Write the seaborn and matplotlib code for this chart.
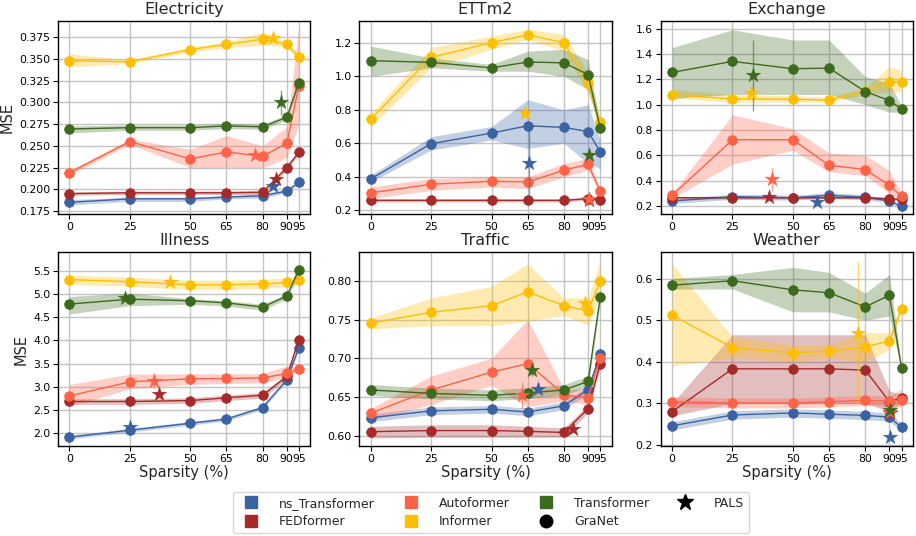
import matplotlib
matplotlib.use("Agg")
import matplotlib.pyplot as plt
import seaborn as sns
import pandas as pd
from matplotlib.lines import Line2D

# ---------------- data ----------------
SPARSITY = [0, 25, 50, 65, 80, 90, 95]
XTICK_LABELS = ["0", "25", "50", "65", "80", "90", "95"]
MODELS = ["ns_Transformer", "FEDformer", "Autoformer", "Informer", "Transformer"]
DATASETS = ["Electricity", "ETTm2", "Exchange", "Illness", "Traffic", "Weather"]

# Electricity
ELEC_MEAN = {
    "ns_Transformer": [0.185, 0.189, 0.189, 0.191, 0.1925, 0.198, 0.208],
    "FEDformer": [0.195, 0.196, 0.196, 0.196, 0.1965, 0.225, 0.2425],
    "Autoformer": [0.219, 0.255, 0.235, 0.243, 0.238, 0.253, 0.319],
    "Informer": [0.348, 0.347, 0.361, 0.367, 0.373, 0.367, 0.352],
    "Transformer": [0.2695, 0.271, 0.271, 0.273, 0.272, 0.283, 0.323],
}
ELEC_LO = {
    "ns_Transformer": [0.182, 0.186, 0.186, 0.189, 0.190, 0.196, 0.206],
    "FEDformer": [0.193, 0.194, 0.194, 0.194, 0.194, 0.222, 0.240],
    "Autoformer": [0.216, 0.252, 0.225, 0.225, 0.225, 0.236, 0.275],
    "Informer": [0.341, 0.345, 0.358, 0.363, 0.366, 0.364, 0.348],
    "Transformer": [0.265, 0.268, 0.268, 0.270, 0.269, 0.280, 0.320],
}
ELEC_HI = {
    "ns_Transformer": [0.188, 0.191, 0.191, 0.193, 0.195, 0.200, 0.210],
    "FEDformer": [0.197, 0.198, 0.198, 0.198, 0.199, 0.228, 0.245],
    "Autoformer": [0.222, 0.258, 0.246, 0.262, 0.250, 0.272, 0.388],
    "Informer": [0.356, 0.349, 0.364, 0.370, 0.381, 0.370, 0.356],
    "Transformer": [0.273, 0.274, 0.274, 0.276, 0.275, 0.286, 0.326],
}
ELEC_PALS_X = [84.3, 85.7, 77.0, 84.3, 87.7]
ELEC_PALS_Y = [0.204, 0.212, 0.240, 0.374, 0.300]
ELEC_PALS_ERR = [0.002, 0.003, 0.002, 0.005, 0.014]

# ETTm2
ETT_MEAN = {
    "ns_Transformer": [0.388, 0.598, 0.661, 0.705, 0.695, 0.670, 0.549],
    "FEDformer": [0.26, 0.26, 0.26, 0.26, 0.26, 0.27, 0.265],
    "Autoformer": [0.305, 0.356, 0.374, 0.370, 0.440, 0.475, 0.315],
    "Informer": [0.745, 1.113, 1.200, 1.247, 1.200, 0.960, 0.730],
    "Transformer": [1.093, 1.083, 1.050, 1.085, 1.080, 1.010, 0.690],
}
ETT_LO = {
    "ns_Transformer": [0.37, 0.56, 0.62, 0.57, 0.60, 0.48, 0.45],
    "FEDformer": [0.25, 0.25, 0.25, 0.25, 0.25, 0.26, 0.255],
    "Autoformer": [0.27, 0.32, 0.34, 0.33, 0.40, 0.44, 0.30],
    "Informer": [0.70, 1.05, 1.16, 1.22, 1.15, 0.90, 0.70],
    "Transformer": [1.00, 1.05, 1.03, 1.03, 1.00, 0.92, 0.67],
}
ETT_HI = {
    "ns_Transformer": [0.41, 0.64, 0.70, 0.86, 0.80, 0.83, 0.62],
    "FEDformer": [0.27, 0.27, 0.27, 0.27, 0.27, 0.28, 0.275],
    "Autoformer": [0.34, 0.39, 0.40, 0.40, 0.48, 0.51, 0.33],
    "Informer": [0.78, 1.17, 1.24, 1.28, 1.25, 1.02, 0.75],
    "Transformer": [1.18, 1.11, 1.07, 1.15, 1.16, 1.10, 0.71],
}
ETT_PALS_X = [65.5, 90.2, 90.2, 63.7, 90.2]
ETT_PALS_Y = [0.483, 0.265, 0.27, 0.78, 0.53]
ETT_PALS_ERR = [0.2, 0.01, 0.01, 0.0, 0.02]

# Exchange
EXCH_MEAN = {
    "ns_Transformer": [0.240, 0.274, 0.266, 0.285, 0.270, 0.240, 0.200],
    "FEDformer": [0.266, 0.266, 0.266, 0.266, 0.266, 0.258, 0.253],
    "Autoformer": [0.285, 0.723, 0.723, 0.522, 0.488, 0.364, 0.277],
    "Informer": [1.077, 1.045, 1.043, 1.035, 1.105, 1.180, 1.180],
    "Transformer": [1.254, 1.341, 1.283, 1.288, 1.103, 1.032, 0.966],
}
EXCH_LO = {
    "ns_Transformer": [0.22, 0.254, 0.246, 0.265, 0.250, 0.225, 0.19],
    "FEDformer": [0.256, 0.256, 0.256, 0.256, 0.256, 0.248, 0.243],
    "Autoformer": [0.26, 0.53, 0.64, 0.47, 0.44, 0.30, 0.25],
    "Informer": [1.05, 1.02, 1.02, 1.02, 1.08, 1.10, 1.10],
    "Transformer": [1.05, 1.08, 1.08, 1.08, 1.00, 0.94, 0.94],
}
EXCH_HI = {
    "ns_Transformer": [0.26, 0.294, 0.286, 0.305, 0.290, 0.255, 0.21],
    "FEDformer": [0.276, 0.276, 0.276, 0.276, 0.276, 0.268, 0.263],
    "Autoformer": [0.30, 0.92, 0.81, 0.62, 0.60, 0.48, 0.30],
    "Informer": [1.12, 1.08, 1.07, 1.06, 1.13, 1.30, 1.27],
    "Transformer": [1.45, 1.59, 1.51, 1.51, 1.22, 1.17, 0.99],
}
EXCH_PALS_X = [60.1, 40.3, 41.4, 32.5, 33.3]
EXCH_PALS_Y = [0.23, 0.27, 0.41, 1.09, 1.23]
EXCH_PALS_ERR = [0.0, 0.01, 0.09, 0.03, 0.28]

# Illness
ILL_MEAN = {
    "ns_Transformer": [1.91, 2.06, 2.21, 2.30, 2.55, 3.15, 3.84],
    "FEDformer": [2.68, 2.68, 2.70, 2.76, 2.815, 3.22, 4.016],
    "Autoformer": [2.80, 3.105, 3.17, 3.177, 3.19, 3.285, 3.39],
    "Informer": [5.312, 5.268, 5.20, 5.20, 5.22, 5.25, 5.31],
    "Transformer": [4.784, 4.89, 4.856, 4.81, 4.72, 4.957, 5.52],
}
ILL_LO = {
    "ns_Transformer": [1.87, 2.02, 2.17, 2.26, 2.51, 3.11, 3.80],
    "FEDformer": [2.62, 2.62, 2.64, 2.70, 2.755, 3.16, 3.956],
    "Autoformer": [2.58, 2.95, 3.05, 3.07, 3.08, 3.20, 3.35],
    "Informer": [5.212, 5.168, 5.10, 5.10, 5.12, 5.15, 5.21],
    "Transformer": [4.57, 4.75, 4.78, 4.74, 4.65, 4.90, 5.40],
}
ILL_HI = {
    "ns_Transformer": [1.95, 2.10, 2.25, 2.34, 2.59, 3.19, 3.88],
    "FEDformer": [2.74, 2.74, 2.76, 2.82, 2.875, 3.28, 4.076],
    "Autoformer": [3.05, 3.27, 3.28, 3.28, 3.28, 3.45, 3.42],
    "Informer": [5.412, 5.368, 5.30, 5.30, 5.32, 5.35, 5.41],
    "Transformer": [4.95, 5.02, 4.90, 4.86, 4.78, 5.00, 5.65],
}
ILL_PALS_X = [25.2, 37.0, 34.9, 41.8, 22.9]
ILL_PALS_Y = [2.12, 2.84, 3.13, 5.25, 4.92]
ILL_PALS_ERR = [0.05, 0.03, 0.15, 0.05, 0.05]

# Traffic
TRAF_MEAN = {
    "ns_Transformer": [0.623, 0.632, 0.634, 0.6305, 0.6385, 0.6595, 0.705],
    "FEDformer": [0.605, 0.6065, 0.6065, 0.6055, 0.604, 0.635, 0.6926],
    "Autoformer": [0.629, 0.659, 0.682, 0.693, 0.653, 0.6485, 0.700],
    "Informer": [0.7455, 0.7593, 0.768, 0.7857, 0.768, 0.761, 0.800],
    "Transformer": [0.659, 0.6545, 0.652, 0.655, 0.659, 0.670, 0.779],
}
TRAF_LO = {
    "ns_Transformer": [0.618, 0.627, 0.629, 0.6255, 0.6335, 0.6545, 0.700],
    "FEDformer": [0.597, 0.598, 0.598, 0.598, 0.598, 0.630, 0.688],
    "Autoformer": [0.620, 0.640, 0.665, 0.637, 0.645, 0.640, 0.690],
    "Informer": [0.738, 0.742, 0.742, 0.748, 0.755, 0.743, 0.780],
    "Transformer": [0.652, 0.6475, 0.645, 0.648, 0.652, 0.663, 0.772],
}
TRAF_HI = {
    "ns_Transformer": [0.628, 0.637, 0.639, 0.6355, 0.6435, 0.6645, 0.710],
    "FEDformer": [0.612, 0.614, 0.614, 0.612, 0.610, 0.640, 0.698],
    "Autoformer": [0.635, 0.677, 0.700, 0.750, 0.660, 0.660, 0.715],
    "Informer": [0.752, 0.778, 0.793, 0.822, 0.778, 0.778, 0.825],
    "Transformer": [0.666, 0.6615, 0.659, 0.662, 0.666, 0.677, 0.786],
}
TRAF_PALS_X = [69.4, 83.6, 62.5, 88.6, 66.6]
TRAF_PALS_Y = [0.660, 0.609, 0.652, 0.771, 0.685]
TRAF_PALS_ERR = [0.005, 0.003, 0.017, 0.006, 0.008]

# Weather
WEA_MEAN = {
    "ns_Transformer": [0.246, 0.272, 0.277, 0.274, 0.271, 0.267, 0.242],
    "FEDformer": [0.280, 0.383, 0.383, 0.383, 0.380, 0.304, 0.313],
    "Autoformer": [0.304, 0.301, 0.301, 0.304, 0.307, 0.305, 0.307],
    "Informer": [0.512, 0.434, 0.422, 0.425, 0.436, 0.450, 0.528],
    "Transformer": [0.584, 0.595, 0.573, 0.566, 0.532, 0.560, 0.385],
}
WEA_LO = {
    "ns_Transformer": [0.236, 0.262, 0.267, 0.264, 0.261, 0.257, 0.232],
    "FEDformer": [0.27, 0.30, 0.30, 0.30, 0.30, 0.28, 0.30],
    "Autoformer": [0.292, 0.289, 0.289, 0.292, 0.295, 0.293, 0.29],
    "Informer": [0.39, 0.41, 0.40, 0.41, 0.40, 0.43, 0.52],
    "Transformer": [0.575, 0.575, 0.52, 0.52, 0.50, 0.51, 0.38],
}
WEA_HI = {
    "ns_Transformer": [0.256, 0.282, 0.287, 0.284, 0.281, 0.277, 0.252],
    "FEDformer": [0.30, 0.465, 0.465, 0.465, 0.465, 0.33, 0.32],
    "Autoformer": [0.316, 0.313, 0.313, 0.316, 0.319, 0.317, 0.335],
    "Informer": [0.635, 0.46, 0.44, 0.44, 0.47, 0.47, 0.54],
    "Transformer": [0.60, 0.61, 0.627, 0.615, 0.565, 0.61, 0.39],
}
WEA_PALS_X = [90.3, 90.3, 90.3, 76.8, 90.3]
WEA_PALS_Y = [0.22, 0.278, 0.28, 0.47, 0.284]
WEA_PALS_ERR = [0.0, 0.0, 0.0, 0.17, 0.005]

YLIMS = [(0.171, 0.394), (0.176, 1.33), (0.134, 1.66),
         (1.72, 5.90), (0.5866, 0.8368), (0.1976, 0.663)]
YTICKS = [
    [0.175, 0.200, 0.225, 0.250, 0.275, 0.300, 0.325, 0.350, 0.375],
    [0.2, 0.4, 0.6, 0.8, 1.0, 1.2],
    [0.2, 0.4, 0.6, 0.8, 1.0, 1.2, 1.4, 1.6],
    [2.0, 2.5, 3.0, 3.5, 4.0, 4.5, 5.0, 5.5],
    [0.60, 0.65, 0.70, 0.75, 0.80],
    [0.2, 0.3, 0.4, 0.5, 0.6],
]
YFMT = ["{:.3f}", "{:.1f}", "{:.1f}", "{:.1f}", "{:.2f}", "{:.1f}"]

COLORS = {
    "ns_Transformer": "#3B62A2",
    "FEDformer": "#A52A2A",
    "Autoformer": "#FF6347",
    "Informer": "#FFBF00",
    "Transformer": "#3D6B1E",
}

ALL = [
    (ELEC_MEAN, ELEC_LO, ELEC_HI, ELEC_PALS_X, ELEC_PALS_Y, ELEC_PALS_ERR),
    (ETT_MEAN, ETT_LO, ETT_HI, ETT_PALS_X, ETT_PALS_Y, ETT_PALS_ERR),
    (EXCH_MEAN, EXCH_LO, EXCH_HI, EXCH_PALS_X, EXCH_PALS_Y, EXCH_PALS_ERR),
    (ILL_MEAN, ILL_LO, ILL_HI, ILL_PALS_X, ILL_PALS_Y, ILL_PALS_ERR),
    (TRAF_MEAN, TRAF_LO, TRAF_HI, TRAF_PALS_X, TRAF_PALS_Y, TRAF_PALS_ERR),
    (WEA_MEAN, WEA_LO, WEA_HI, WEA_PALS_X, WEA_PALS_Y, WEA_PALS_ERR),
]

# ---------------- style ----------------
sns.set_style("whitegrid", {
    "axes.edgecolor": "black",
    "grid.color": "#c4c4c4",
    "xtick.bottom": True,
    "ytick.left": True,
    "xtick.color": "black",
    "ytick.color": "black",
})
plt.rcParams["font.family"] = ["DejaVu Sans"]
plt.rcParams["axes.linewidth"] = 1.0
plt.rcParams["grid.linewidth"] = 1.0

fig, axes = plt.subplots(2, 3, figsize=(9.16, 5.36), dpi=100)
plt.subplots_adjust(left=0.0633, right=0.9967, top=0.961, bottom=0.168,
                    wspace=0.194, hspace=0.196)

for k, ax in enumerate(axes.flat):
    mean, lo, hi, px, py, perr = ALL[k]
    for i, m in enumerate(MODELS):
        c = COLORS[m]
        ax.fill_between(SPARSITY, lo[m], hi[m], color=c, alpha=0.3, lw=0, zorder=1 + i * 0.1)
        df = pd.DataFrame({"Sparsity": SPARSITY, "MSE": mean[m]})
        sns.lineplot(data=df, x="Sparsity", y="MSE", ax=ax, color=c, marker="o",
                     markersize=7, markeredgecolor=c, markeredgewidth=0.5,
                     linewidth=1.0, zorder=3 + i * 0.1)
    for i, m in enumerate(MODELS):
        c = COLORS[m]
        if perr[i] > 0:
            ax.errorbar([px[i]], [py[i]], yerr=[perr[i]], fmt="none", ecolor=c,
                        elinewidth=1.0, alpha=0.6, zorder=5)
        sns.scatterplot(x=[px[i]], y=[py[i]], ax=ax, marker="*", s=120, color=c,
                        edgecolor=c, linewidth=0.3, zorder=6, legend=False)
    ax.set_title(DATASETS[k], fontsize=11.5, pad=5)
    ax.set_xlim(-4.75, 99.75)
    ax.set_xticks(SPARSITY)
    ax.set_xticklabels(XTICK_LABELS, fontsize=7.8)
    ax.set_ylim(*YLIMS[k])
    ax.set_yticks(YTICKS[k])
    ax.set_yticklabels([YFMT[k].format(v) for v in YTICKS[k]], fontsize=7.8)
    ax.tick_params(axis="both", length=3.5, width=0.8, pad=2)
    ax.set_xlabel("Sparsity (%)" if k >= 3 else "", fontsize=10.5, labelpad=1)
    ax.set_ylabel("MSE" if k % 3 == 0 else "", fontsize=10.5, labelpad=3)
    for s in ax.spines.values():
        s.set_color("black")
        s.set_linewidth(1.0)

handles = [Line2D([], [], marker="s", ls="", color=COLORS[m], markersize=9) for m in MODELS]
handles.append(Line2D([], [], marker="o", ls="", color="black", markersize=9))
handles.append(Line2D([], [], marker="*", ls="", color="black", markersize=12))
labels = MODELS + ["GraNet", "PALS"]
fig.legend(handles, labels, loc="center", bbox_to_anchor=(0.536, 0.044), ncol=4,
           fontsize=9, frameon=True, edgecolor="#cccccc", handletextpad=1.25,
           columnspacing=1.9, borderpad=0.4, labelspacing=0.45)

fig.savefig("out.png", dpi=100)
